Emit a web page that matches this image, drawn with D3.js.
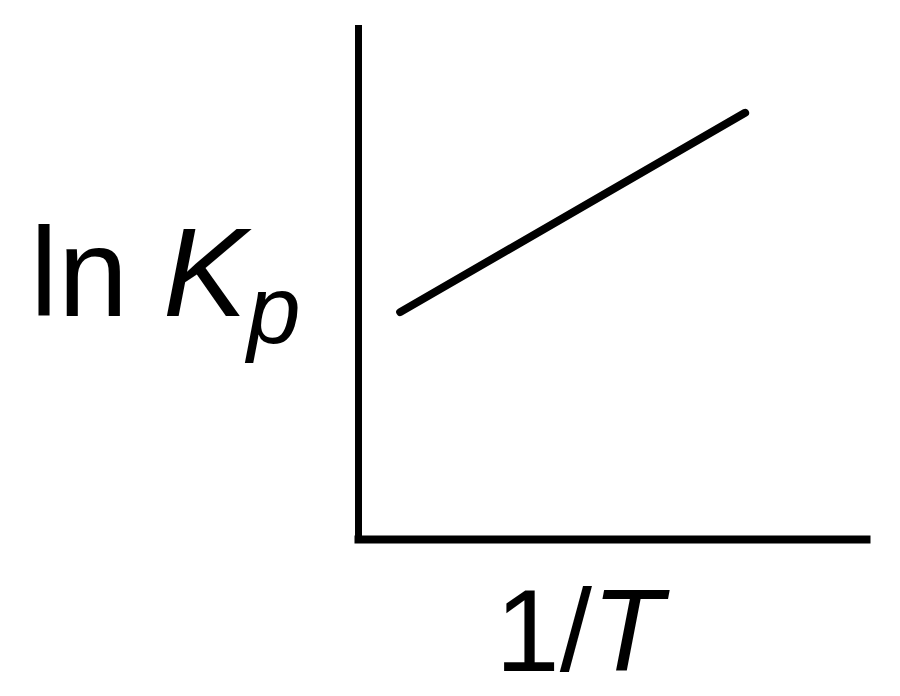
<!DOCTYPE html>
<html>
<head>
<meta charset="utf-8">
<script src="https://cdn.jsdelivr.net/npm/d3@7"></script>
<style>
  body { margin: 0; background: #fff; }
  svg { display: block; }
  .axis .domain { stroke: #000; stroke-linecap: square; }
  .lbl { font-family: "Liberation Sans", Arial, sans-serif; fill: #000; }
</style>
</head>
<body>
<div id="chart"></div>
<script>
// Data (schematic: ln Kp rising linearly with 1/T)
const invT = [0.083, 0.762];
const lnKp = [0.444, 0.834];

// Dimensions
const width = 900;
const height = 696;
const margin = { top: 28, right: 34, bottom: 157, left: 358 };

const svg = d3.select('#chart')
  .append('svg')
  .attr('width', width)
  .attr('height', height);

// Scales
const x = d3.scaleLinear()
  .domain([0, 1])
  .range([margin.left, width - margin.right]);

const y = d3.scaleLinear()
  .domain([0, 1])
  .range([height - margin.bottom, margin.top]);

// Axes, no ticks
svg.append('g')
  .attr('class', 'axis')
  .attr('transform', `translate(0,${y(0)})`)
  .call(d3.axisBottom(x).ticks(0).tickSizeOuter(0))
  .select('.domain')
  .attr('stroke-width', 8);

svg.append('g')
  .attr('class', 'axis')
  .attr('transform', `translate(${x(0)},0)`)
  .call(d3.axisLeft(y).ticks(0).tickSizeOuter(0))
  .select('.domain')
  .attr('stroke-width', 7);

// Line
const pts = invT.map((v, i) => [v, lnKp[i]]);
svg.append('path')
  .datum(pts)
  .attr('fill', 'none')
  .attr('stroke', '#000')
  .attr('stroke-width', 8)
  .attr('stroke-linecap', 'round')
  .attr('d', d3.line().x(d => x(d[0])).y(d => y(d[1])));

// Y label: ln Kp
const yl = svg.append('text')
  .attr('class', 'lbl')
  .attr('x', 30)
  .attr('y', 316)
  .attr('font-size', 126);
yl.append('tspan').text('ln ');
yl.append('tspan').attr('font-style', 'italic').text('K');
yl.append('tspan').attr('font-style', 'italic').attr('font-size', 96).attr('dy', 27).text('p');

// X label: 1/T
const xl = svg.append('text')
  .attr('class', 'lbl')
  .attr('x', 579)
  .attr('y', 671)
  .attr('text-anchor', 'middle')
  .attr('font-size', 116);
xl.append('tspan').text('1/');
xl.append('tspan').attr('font-style', 'italic').text('T');
</script>
</body>
</html>
